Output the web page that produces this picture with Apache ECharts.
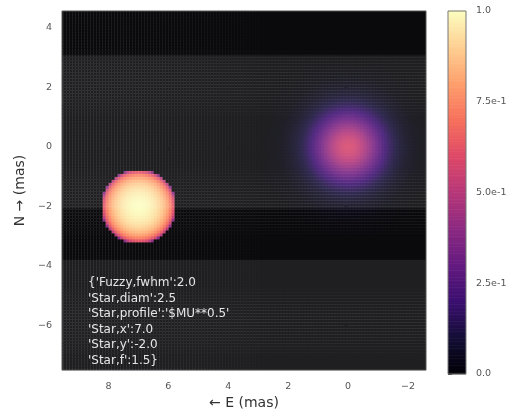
<!DOCTYPE html>
<html>
<head>
<meta charset="utf-8">
<title>Model image: Fuzzy + Star</title>
<script src="https://cdn.jsdelivr.net/npm/echarts@6/dist/echarts.min.js"></script>
<style>
  html, body { margin: 0; padding: 0; background: #ffffff; }
  #chart { width: 510px; height: 415px; }
</style>
</head>
<body>
<div id="chart"></div>
<script>
// Model parameters (as printed in the annotation)
const paramNames = ['Fuzzy,fwhm', 'Star,diam', 'Star,profile', 'Star,x', 'Star,y', 'Star,f'];
const paramValues = [2.0, 2.5, '$MU**0.5', 7.0, -2.0, 1.5];
const fuzzyCenter = [0.0, 0.0];
const fuzzyFlux = 1.0;

// Image field of view and sampling (mas)
const xLimits = [-2.6, 9.55];
const yLimits = [-7.5, 4.57];
const pixelSize = 0.1;

// Axis ticks
const xTicks = [-2, 0, 2, 4, 6, 8];
const yTicks = [-6, -4, -2, 0, 2, 4];
const colorbarTicks = [0, 0.25, 0.5, 0.75, 1];
const colorbarTickLabels = ['0.0', '2.5e-1', '5.0e-1', '7.5e-1', '1.0'];

// magma colormap
const magmaStops = ['#000004', '#140e36', '#3b0f70', '#641a80', '#8c2981', '#b73779',
                    '#de4968', '#f7705c', '#fe9f6d', '#fecf92', '#fcfdbf'];

// Low-level detector haze across rows: [yTop, yBottom, opacity]
const hazeBands = [[4.57, 3.08, 0.04], [3.08, -2.07, 0.12], [-2.07, -3.79, 0.04], [-3.79, -7.5, 0.12]];

const P = {};
paramNames.forEach((n, i) => { P[n] = paramValues[i]; });
const fwhm = P['Fuzzy,fwhm'];
const sigma = fwhm / (2 * Math.sqrt(2 * Math.log(2)));
const starR = P['Star,diam'] / 2;
const ldPower = Number(String(P['Star,profile']).split('**')[1]);
const starFlux = P['Star,f'];
// Disk with I ~ mu^p: total flux = 2*pi*R^2/(p+2)
const starPeak = starFlux / (2 * Math.PI * starR * starR / (ldPower + 2));
const fuzzyPeak = fuzzyFlux / (2 * Math.PI * sigma * sigma);

function brightness(x, y) {
  const dxs = x - P['Star,x'], dys = y - P['Star,y'];
  const r2 = (dxs * dxs + dys * dys) / (starR * starR);
  let v = 0;
  if (r2 < 1) v += starPeak * Math.pow(Math.sqrt(1 - r2), ldPower);
  const dxf = x - fuzzyCenter[0], dyf = y - fuzzyCenter[1];
  v += fuzzyPeak * Math.exp(-(dxf * dxf + dyf * dyf) / (2 * sigma * sigma));
  return v;
}

// Pixel grid
const imageData = [];
let vmax = 0;
const nx = Math.ceil((xLimits[1] - xLimits[0]) / pixelSize);
const ny = Math.ceil((yLimits[1] - yLimits[0]) / pixelSize);
for (let j = 0; j < ny; j++) {
  const y = yLimits[0] + (j + 0.5) * pixelSize;
  for (let i = 0; i < nx; i++) {
    const x = xLimits[0] + (i + 0.5) * pixelSize;
    const v = brightness(x, y);
    if (v > vmax) vmax = v;
    imageData.push([x, y, v]);
  }
}
imageData.forEach(d => { d[2] = d[2] / vmax; });

// Colorbar strips
const colorbarData = [];
const nStrips = 256;
for (let k = 0; k < nStrips; k++) {
  colorbarData.push([k / nStrips, (k + 1) / nStrips, (k + 0.5) / nStrips]);
}

function fmtVal(v) {
  return typeof v === 'string' ? "'" + v + "'" : v.toFixed(1);
}
const annotation = paramNames.map((n, i) =>
  (i === 0 ? '{' : '') + "'" + n + "':" + fmtVal(paramValues[i]) + (i === paramNames.length - 1 ? '}' : '')
).join('\n');

const FONT = 'DejaVu Sans';
const half = pixelSize / 2;

const chart = echarts.init(document.getElementById('chart'), null, { renderer: 'canvas' });
chart.setOption({
  animation: false,
  backgroundColor: '#ffffff',
  textStyle: { fontFamily: FONT },
  grid: [
    { left: 62, top: 11, width: 364, height: 362, show: true, borderColor: '#555', borderWidth: 1,
      backgroundColor: 'transparent', z: 10 },
    { left: 448, top: 11, width: 18, height: 363, show: true, borderColor: '#777', borderWidth: 1,
      backgroundColor: 'transparent', z: 10 }
  ],
  xAxis: [
    { type: 'value', gridIndex: 0, inverse: true, min: xLimits[0], max: xLimits[1],
      name: '← E (mas)', nameLocation: 'middle', nameGap: 22,
      nameTextStyle: { fontSize: 14, color: '#333', fontFamily: FONT },
      axisLine: { show: false },
      axisTick: { show: true, length: 4, lineStyle: { color: '#444' }, customValues: xTicks },
      axisLabel: { fontSize: 9.5, color: '#555', margin: 11, customValues: xTicks,
        formatter: v => String(v).replace('-', '\u2212') },
      splitLine: { show: false } },
    { type: 'value', gridIndex: 1, min: 0, max: 1, show: false }
  ],
  yAxis: [
    { type: 'value', gridIndex: 0, min: yLimits[0], max: yLimits[1],
      name: 'N → (mas)', nameLocation: 'middle', nameGap: 31,
      nameTextStyle: { fontSize: 14, color: '#333', fontFamily: FONT },
      axisLine: { show: false },
      axisTick: { show: true, length: 4, lineStyle: { color: '#444' }, customValues: yTicks },
      axisLabel: { fontSize: 9.5, color: '#555', margin: 10, customValues: yTicks,
        formatter: v => String(v).replace('-', '\u2212') },
      splitLine: { show: false } },
    { type: 'value', gridIndex: 1, min: 0, max: 1, position: 'right',
      axisLine: { show: false },
      axisTick: { show: true, length: 4, lineStyle: { color: '#444' }, customValues: colorbarTicks },
      axisLabel: { fontSize: 9.5, color: '#555', margin: 10, customValues: colorbarTicks,
        formatter: v => colorbarTickLabels[colorbarTicks.indexOf(v)] },
      splitLine: { show: false } }
  ],
  visualMap: {
    type: 'continuous', show: false, min: 0, max: 1, dimension: 2,
    seriesIndex: [0, 1], inRange: { color: magmaStops }
  },
  graphic: [{
    type: 'text', left: 88, top: 275, z: 20,
    style: { text: annotation, fill: '#e6e6e6', font: '12px "DejaVu Sans"', lineHeight: 15.6 }
  }],
  series: [
    {
      type: 'custom', xAxisIndex: 0, yAxisIndex: 0, clip: true, progressive: 0, z: 2,
      encode: { x: 0, y: 1 },
      data: imageData,
      renderItem: (params, api) => {
        const x = api.value(0), y = api.value(1);
        const a = api.coord([x - half, y + half]);
        const b = api.coord([x + half, y - half]);
        const x0 = Math.min(a[0], b[0]), y0 = Math.min(a[1], b[1]);
        return {
          type: 'rect',
          shape: { x: x0 - 0.2, y: y0 - 0.2, width: Math.abs(b[0] - a[0]) + 0.4, height: Math.abs(b[1] - a[1]) + 0.4 },
          style: { fill: api.visual('color') }
        };
      }
    },
    {
      type: 'custom', xAxisIndex: 1, yAxisIndex: 1, progressive: 0,
      encode: { y: [0, 1] },
      data: colorbarData,
      renderItem: (params, api) => {
        const a = api.coord([0, api.value(1)]);
        const b = api.coord([1, api.value(0)]);
        return {
          type: 'rect',
          shape: { x: a[0], y: a[1] - 0.3, width: b[0] - a[0], height: b[1] - a[1] + 0.6 },
          style: { fill: api.visual('color') }
        };
      }
    },
    {
      type: 'line', xAxisIndex: 0, yAxisIndex: 0, z: 5, silent: true,
      data: [[xLimits[0], yLimits[0]]], showSymbol: false, symbol: 'none',
      lineStyle: { opacity: 0 },
      markArea: {
        silent: true, z: 6,
        data: hazeBands.map(b => [
          { xAxis: xLimits[0], yAxis: b[0], itemStyle: { color: 'rgba(255,255,255,' + b[2] + ')' } },
          { xAxis: xLimits[1], yAxis: b[1] }
        ])
      }
    }
  ]
});
</script>
</body>
</html>
